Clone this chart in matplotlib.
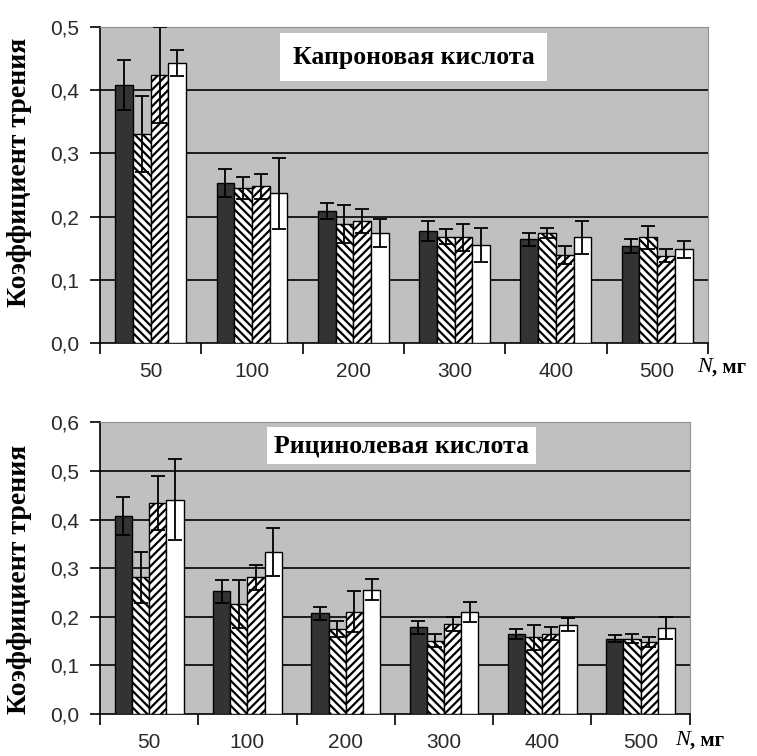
import numpy as np
import matplotlib.pyplot as plt

plt.rcParams['hatch.linewidth'] = 1.6

groups = ['50', '100', '200', '300', '400', '500']

#Капроновая кислота
top_s1 = [0.408, 0.253, 0.209, 0.177, 0.164, 0.153]
top_s2 = [0.331, 0.245, 0.189, 0.168, 0.174, 0.167]
top_s3 = [0.424, 0.248, 0.193, 0.167, 0.139, 0.138]
top_s4 = [0.443, 0.237, 0.174, 0.155, 0.167, 0.148]
top_e1 = [0.040, 0.022, 0.013, 0.016, 0.010, 0.011]
top_e2 = [0.060, 0.017, 0.030, 0.012, 0.008, 0.018]
top_e3 = [0.076, 0.020, 0.019, 0.021, 0.014, 0.010]
top_e4 = [0.021, 0.056, 0.022, 0.027, 0.026, 0.013]

#Рицинолевая кислота
bot_s1 = [0.408, 0.252, 0.207, 0.178, 0.165, 0.155]
bot_s2 = [0.281, 0.226, 0.175, 0.151, 0.158, 0.155]
bot_s3 = [0.434, 0.281, 0.210, 0.185, 0.165, 0.148]
bot_s4 = [0.441, 0.333, 0.256, 0.210, 0.184, 0.177]
bot_e1 = [0.039, 0.023, 0.013, 0.013, 0.010, 0.007]
bot_e2 = [0.052, 0.049, 0.016, 0.014, 0.026, 0.010]
bot_e3 = [0.055, 0.026, 0.042, 0.014, 0.013, 0.010]
bot_e4 = [0.084, 0.049, 0.022, 0.020, 0.014, 0.023]


def panel(ax, series, errs, title, ymax, title_xy, title_pad, label_xy, n_xy):
    x = np.arange(len(groups))
    w = 0.175
    fills = ['#333333', 'white', 'white', 'white']
    hatches = [None, '\\\\\\\\', '////', None]
    ax.set_facecolor('#c0c0c0')
    for i in range(4):
        ax.bar(x + (i - 1.5) * w, series[i], w, yerr=errs[i], color=fills[i],
               edgecolor='black', linewidth=1.0, hatch=hatches[i], zorder=3,
               error_kw=dict(ecolor='black', elinewidth=1.3, capsize=5, capthick=1.3, zorder=4))
    ax.set_xlim(-0.5, len(groups) - 0.5)
    ax.set_ylim(0, ymax)
    yt = np.arange(0, ymax + 0.001, 0.1)
    ax.set_yticks(yt)
    ax.set_yticklabels(['{:.1f}'.format(v).replace('.', ',') for v in yt],
                       fontsize=15, family='Liberation Sans', color='#2a2a2a')
    for v in yt[1:-1]:   #gridlines
        ax.axhline(v, color='black', linewidth=1.2, zorder=1)
    ax.set_xticks(x)
    ax.set_xticklabels(groups, fontsize=15, family='Liberation Sans', color='#2a2a2a')
    ax.tick_params(axis='x', which='major', length=0, pad=14)
    ax.set_xticks(np.arange(-0.5, len(groups)), minor=True)
    ax.tick_params(axis='x', which='minor', length=8, width=1.2, direction='out')
    ax.tick_params(axis='y', length=7, width=1.2, direction='out', pad=8)
    for s in ['top', 'right']:
        ax.spines[s].set_color('#909090')
    for s in ['left', 'bottom']:
        ax.spines[s].set_linewidth(1.2)
    ax.set_ylabel('Коэффициент трения', family='Liberation Serif', fontweight='bold', fontsize=20)
    ax.yaxis.set_label_coords(label_xy[0], label_xy[1])
    ax.text(title_xy[0], title_xy[1], title, transform=ax.transAxes, ha='center', va='center',
            family='Liberation Serif', fontweight='bold', fontsize=18.5, zorder=5,
            bbox=dict(facecolor='white', edgecolor='none', pad=title_pad))
    t = ax.text(n_xy[0], n_xy[1], 'N', transform=ax.get_xaxis_transform(),
                family='Liberation Serif', style='italic', fontsize=16, va='center', clip_on=False)
    ax.annotate(', мг', xy=(1, 0), xycoords=t, va='bottom', family='Liberation Serif',
                fontweight='bold', fontsize=15)


fig = plt.figure(figsize=(7.57, 7.56), dpi=100)

ax1 = fig.add_axes([0.1321, 0.5463, 0.803, 0.418])
panel(ax1, [top_s1, top_s2, top_s3, top_s4], [top_e1, top_e2, top_e3, top_e4],
      'Капроновая кислота', 0.5, (0.516, 0.905), 9, (-0.112, 0.54), (5.39, -0.078))

ax2 = fig.add_axes([0.1321, 0.0556, 0.779, 0.3857])
panel(ax2, [bot_s1, bot_s2, bot_s3, bot_s4], [bot_e1, bot_e2, bot_e3, bot_e4],
      'Рицинолевая кислота', 0.6, (0.512, 0.92), 5, (-0.115, 0.46), (5.35, -0.092))

fig.savefig('out.png', dpi=100)
